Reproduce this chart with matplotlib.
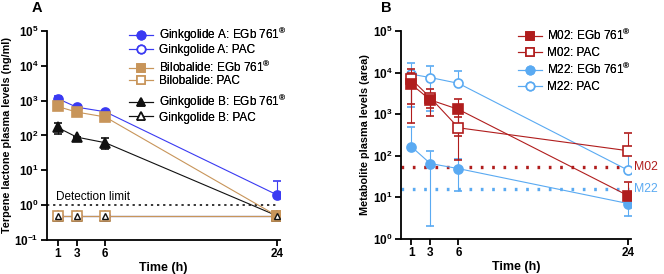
import numpy as np
import matplotlib
matplotlib.use("Agg")
import matplotlib.pyplot as plt
from matplotlib.lines import Line2D
from matplotlib.ticker import FixedLocator, FuncFormatter, NullLocator

plt.rcParams["font.family"] = ["Liberation Sans", "DejaVu Sans"]
plt.rcParams["mathtext.fontset"] = "custom"
plt.rcParams["mathtext.rm"] = "Liberation Sans"
plt.rcParams["mathtext.bf"] = "Liberation Sans:bold"

# --- data -------------------------------------------------------------------
time_h = [1, 3, 6, 24]

# panel A: terpene lactones (ng/ml), mean and SD
ga_egb = [1150, 650, 480, 2.0]
ga_egb_sd = [250, 0, 0, 3.0]
bb_egb = [680, 470, 340, 0.5]
bb_egb_sd = [0, 0, 0, 0]
gb_egb = [170, 90, 62, 0.5]
gb_egb_sd = [60, 0, 20, 0]
pac_floor = [0.5, 0.5, 0.5, 0.5]
detection_limit = 1.0

# panel B: metabolites (peak area), mean and SD
m02_egb = [5200, 2200, 1300, 11]
m02_egb_sd = [4600, 800, 1000, 13]
m02_pac = [6900, 2500, 470, 132]
m02_pac_sd = [5100, 1600, 390, 223]
m22_egb = [165, 65, 49, 7.1]
m22_egb_sd = [335, 63, 35, 3.6]
m22_pac = [9100, 7600, 5500, 45]
m22_pac_sd = [7600, 6400, 5500, 67]
m02_limit = 55
m22_limit = 16

C_GA = "#3a3af2"
C_BB = "#c8955a"
C_GB = "#111111"
C_M02 = "#b01d1d"
C_M22 = "#5aaaf2"

FS = 8.5


def yerr(mean, sd):
    mean, sd = np.asarray(mean, float), np.asarray(sd, float)
    lo = np.where(mean - sd > 0, sd, 0)  # graphpad drops bars below zero on log axes
    return [lo, sd]


def series(ax, mean, sd, color, marker, filled, z=3):
    ax.errorbar(time_h, mean, yerr=yerr(mean, sd), color=color, marker=marker,
                ms=6.5, mfc=color if filled else "white", mec=color, mew=1.2,
                lw=0.8, elinewidth=0.8, capsize=3, capthick=0.8, zorder=z)


def handle(color, marker, filled):
    return Line2D([], [], color=color, marker=marker, ms=6, lw=0.8, mew=1.2,
                  mfc=color if filled else "white", mec=color)


def style(ax, ymin, ymax):
    ax.set_yscale("log")
    ax.set_ylim(ymin, ymax)
    ax.set_xlim(-0.1, 24.3)
    exps = range(int(np.log10(ymin)), int(np.log10(ymax)) + 1)
    ax.yaxis.set_major_locator(FixedLocator([10.0 ** e for e in exps]))
    ax.yaxis.set_minor_locator(NullLocator())
    ax.yaxis.set_major_formatter(FuncFormatter(
        lambda v, p: r"$\mathbf{10^{%d}}$" % round(np.log10(v))))
    ax.set_xticks(time_h)
    ax.set_xticklabels([str(t) for t in time_h], fontweight="bold")
    for s in ["top", "right"]:
        ax.spines[s].set_visible(False)
    for s in ["left", "bottom"]:
        ax.spines[s].set_linewidth(1.3)
    ax.tick_params(width=1.3, length=4, labelsize=FS, pad=2)
    ax.set_xlabel("Time (h)", fontweight="bold", fontsize=FS + 0.5, labelpad=1)


fig = plt.figure(figsize=(6.64, 2.74), dpi=100)
axA = fig.add_axes([0.071, 0.124, 0.350, 0.763])
axB = fig.add_axes([0.604, 0.128, 0.346, 0.759])

# --- panel A ----------------------------------------------------------------
series(axA, pac_floor, [0] * 4, C_GA, "o", False, 2)
series(axA, pac_floor, [0] * 4, C_GB, "^", False, 2)
series(axA, pac_floor, [0] * 4, C_BB, "s", False, 3)
axA.plot(time_h, pac_floor, ls="none", marker="^", ms=5, mfc="white",
         mec=C_GB, mew=1.0, zorder=4)
series(axA, ga_egb, ga_egb_sd, C_GA, "o", True, 3)
series(axA, gb_egb, gb_egb_sd, C_GB, "^", True, 3)
series(axA, bb_egb, bb_egb_sd, C_BB, "s", True, 3)
axA.axhline(detection_limit, xmin=0.0, xmax=0.99, color="black", ls=(0, (1.5, 2.5)),
            lw=1.1, zorder=1)
axA.text(0.8, 1.12, "Detection limit", fontsize=FS, va="bottom", ha="left")
style(axA, 0.1, 1e5)
axA.set_ylabel("Terpene lactone plasma levels (ng/ml)", fontweight="bold",
               fontsize=7.8, labelpad=2)

egb = r"EGb 761$^{\mathregular{®}}$"
legA = [
    ([handle(C_GA, "o", True), handle(C_GA, "o", False)],
     ["Ginkgolide A: " + egb, "Ginkgolide A: PAC"], 0.905),
    ([handle(C_BB, "s", True), handle(C_BB, "s", False)],
     ["Bilobalide: " + egb, "Bilobalide: PAC"], 0.782),
    ([handle(C_GB, "^", True), handle(C_GB, "^", False)],
     ["Ginkgolide B: " + egb, "Ginkgolide B: PAC"], 0.660),
]
for h, l, y in legA:
    lg = fig.legend(h, l, loc="upper left", bbox_to_anchor=(0.195, y),
                    frameon=False, fontsize=FS, borderpad=0, borderaxespad=0,
                    handlelength=2.0, handletextpad=0.5, labelspacing=0.02)
    fig.add_artist(lg)

# --- panel B ----------------------------------------------------------------
series(axB, m22_pac, m22_pac_sd, C_M22, "o", False, 2)
series(axB, m22_egb, m22_egb_sd, C_M22, "o", True, 2)
series(axB, m02_pac, m02_pac_sd, C_M02, "s", False, 3)
series(axB, m02_egb, m02_egb_sd, C_M02, "s", True, 3)
axB.axhline(m02_limit, xmin=0.0, xmax=0.99, color=C_M02, ls=(0, (0.8, 2.6)),
            lw=2.4, zorder=1)
axB.axhline(m22_limit, xmin=0.0, xmax=0.99, color=C_M22, ls=(0, (0.8, 2.6)),
            lw=2.4, zorder=1)
axB.text(24.6, m02_limit, "M02", color=C_M02, fontsize=8.8, va="center",
         ha="left", clip_on=False)
axB.text(24.6, m22_limit, "M22", color=C_M22, fontsize=8.8, va="center",
         ha="left", clip_on=False)
style(axB, 1, 1e5)
axB.set_ylabel("Metabolite plasma levels (area)", fontweight="bold",
               fontsize=7.8, labelpad=2)

legB = [
    ([handle(C_M02, "s", True), handle(C_M02, "s", False)],
     ["M02: " + egb, "M02: PAC"], 0.898),
    ([handle(C_M22, "o", True), handle(C_M22, "o", False)],
     ["M22: " + egb, "M22: PAC"], 0.775),
]
for h, l, y in legB:
    lg = fig.legend(h, l, loc="upper left", bbox_to_anchor=(0.78, y),
                    frameon=False, fontsize=FS, borderpad=0, borderaxespad=0,
                    handlelength=2.0, handletextpad=0.5, labelspacing=0.35)
    fig.add_artist(lg)

fig.text(0.048, 0.995, "A", fontsize=10.5, fontweight="bold", va="top")
fig.text(0.574, 0.995, "B", fontsize=10.5, fontweight="bold", va="top")

fig.savefig("out.png", dpi=100)
